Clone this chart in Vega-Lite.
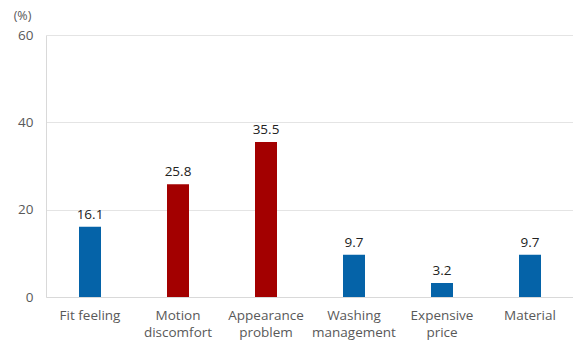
{
  "$schema": "https://vega.github.io/schema/vega-lite/v6.json",
  "autosize": "none",
  "width": 528,
  "height": 262,
  "padding": {"left": 46, "top": 35, "right": 0, "bottom": 46},
  "background": "white",
  "config": {"view": {"stroke": null}, "font": "Open Sans"},
  "data": {
    "values": [
      {"reason": "Fit feeling", "pct": 16.1, "group": "a"},
      {"reason": "Motion discomfort", "pct": 25.8, "group": "b"},
      {"reason": "Appearance problem", "pct": 35.5, "group": "b"},
      {"reason": "Washing management", "pct": 9.7, "group": "a"},
      {"reason": "Expensive price", "pct": 3.2, "group": "a"},
      {"reason": "Material", "pct": 9.7, "group": "a"}
    ]
  },
  "encoding": {
    "x": {
      "field": "reason", "type": "nominal", "sort": null,
      "scale": {"paddingInner": 0.75, "paddingOuter": 0.375},
      "axis": {
        "title": null, "labelAngle": 0, "ticks": false,
        "domainColor": "#d9d9d9", "domainWidth": 1,
        "labelColor": "#595959", "labelFontSize": 13.5, "labelPadding": 11,
        "labelLineHeight": 17,
        "labelExpr": "datum.value == 'Fit feeling' ? datum.value : split(datum.value, ' ')"
      }
    },
    "y": {
      "field": "pct", "type": "quantitative",
      "scale": {"domain": [0, 60]},
      "axis": {
        "values": [0, 20, 40, 60], "grid": true, "gridColor": "#e4e4e4", "ticks": false,
        "domainColor": "#d9d9d9", "labelColor": "#595959", "labelFontSize": 13.5,
        "labelPadding": 13,
        "title": "(%)", "titleAngle": 0, "titleFontWeight": "normal",
        "titleFontSize": 12.5, "titleColor": "#595959",
        "titleX": -24, "titleY": -20, "titleAlign": "center", "titleBaseline": "middle"
      }
    }
  },
  "layer": [
    {
      "mark": {"type": "bar"},
      "encoding": {
        "color": {
          "field": "group", "type": "nominal",
          "scale": {"domain": ["a", "b"], "range": ["#0563a8", "#a30000"]},
          "legend": null
        }
      }
    },
    {
      "mark": {"type": "text", "dy": -12, "fontSize": 13.5, "color": "#222222"},
      "encoding": {"text": {"field": "pct", "type": "quantitative", "format": ".1f"}}
    }
  ]
}
